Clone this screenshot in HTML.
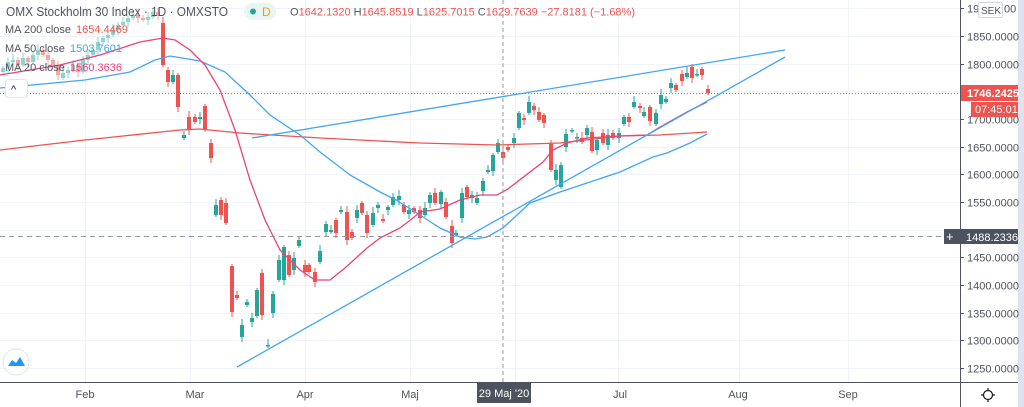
<!DOCTYPE html>
<html><head><meta charset="utf-8">
<style>
html,body{margin:0;padding:0;background:#fff;width:1024px;height:407px;overflow:hidden;font-family:"Liberation Sans",sans-serif;}
svg text{font-family:"Liberation Sans",sans-serif;}
</style></head>
<body>
<svg id="s" width="1024" height="407" viewBox="0 0 1024 407" xmlns="http://www.w3.org/2000/svg">
<rect width="1024" height="407" fill="#fff"/>
<g id="grid" stroke="#f0f3fa" stroke-width="1"></g>
<g id="candles"></g>
<g id="lines" fill="none" stroke-width="1.3"></g>
<line x1="237" y1="367" x2="785" y2="57" stroke="#42a5f5" stroke-width="1.3"/>
<line x1="252" y1="138" x2="785" y2="50" stroke="#42a5f5" stroke-width="1.3"/>
<line x1="503" y1="0" x2="503" y2="382" stroke="#9598a1" stroke-dasharray="4,3"/>
<line x1="0" y1="236.5" x2="960" y2="236.5" stroke="#9598a1" stroke-dasharray="5,4"/>
<line x1="0" y1="93.5" x2="960" y2="93.5" stroke="#ef5350" stroke-dasharray="1,2"/>
<line x1="960.5" y1="0" x2="960.5" y2="407" stroke="#50535e"/>
<line x1="0" y1="382.5" x2="1018" y2="382.5" stroke="#50535e"/>
<rect x="1018" y="0" width="6" height="407" fill="#e0e3eb"/>
<g id="ylab" font-size="11" fill="#50535e"></g>
<g font-size="11" fill="#50535e" text-anchor="middle">
<text x="85" y="398">Feb</text><text x="195" y="398">Mar</text><text x="305" y="398">Apr</text><text x="410" y="398">Maj</text>
<text x="620" y="398">Jul</text><text x="738" y="398">Aug</text><text x="848" y="398">Sep</text>
</g>
<rect x="477" y="383" width="54" height="20" fill="#4c525e"/>
<text x="504" y="397" font-size="11" fill="#fff" text-anchor="middle">29 Maj '20</text>
<rect x="961" y="85" width="57" height="16" fill="#ef5350"/>
<text x="967" y="97" font-size="11" fill="#fff" font-weight="bold">1746.2425</text>
<rect x="971" y="102" width="47" height="15" fill="#ef5350"/>
<text x="975" y="113" font-size="11" fill="#fff">07:45:01</text>
<rect x="944" y="229" width="74" height="15" fill="#4c525e"/>
<text x="946" y="241" font-size="13" fill="#fff">+</text>
<text x="966" y="241" font-size="11" fill="#fff">1488.2336</text>
<rect x="978.5" y="2.5" width="24" height="15" rx="2" fill="#fff" stroke="#d1d4dc"/>
<text x="981" y="14" font-size="10" fill="#50535e">SEK</text>
<circle cx="988" cy="395" r="4.5" fill="none" stroke="#131722" stroke-width="1.2"/>
<g stroke="#131722" stroke-width="1.2"><line x1="988" y1="388" x2="988" y2="390"/><line x1="988" y1="400" x2="988" y2="402"/><line x1="981" y1="395" x2="983" y2="395"/><line x1="993" y1="395" x2="995" y2="395"/></g>
<text x="6" y="16" font-size="13" fill="#50535e" textLength="222" lengthAdjust="spacingAndGlyphs">OMX Stockholm 30 Index · 1D · OMXSTO</text>
<rect x="244" y="3" width="32" height="17" rx="8" fill="#e8f5f3"/>
<circle cx="253" cy="11.5" r="3" fill="#26a69a"/>
<text x="262" y="16" font-size="12" fill="#ff9800">D</text>
<text x="290" y="15.5" font-size="11" fill="#50535e">O<tspan fill="#ef5350">1642.1320</tspan>  H<tspan fill="#ef5350">1645.8519</tspan>  L<tspan fill="#ef5350">1625.7015</tspan>  C<tspan fill="#ef5350">1629.7639</tspan>  <tspan fill="#ef5350">−27.8181 (−1.68%)</tspan></text>
<text x="5" y="33" font-size="11" fill="#50535e">MA 200 close <tspan x="76" fill="#ef5350">1654.4469</tspan></text>
<text x="5" y="52" font-size="11" fill="#50535e">MA 50 close <tspan x="70" fill="#42a5f5">1503.7601</tspan></text>
<text x="5" y="71" font-size="11" fill="#50535e">MA 20 close <tspan x="70" fill="#ec407a">1560.3636</tspan></text>
<rect x="5.5" y="79.5" width="22" height="18" rx="3" fill="#fff" stroke="#e0e3eb"/>
<text x="11" y="93" font-size="11" fill="#131722">^</text>
<circle cx="16" cy="362" r="13" fill="#fff" stroke="#e0e3eb"/>
<path d="M8 366 L12 360 L16 363 L20 357 L25 366 Z" fill="#2196f3"/>
</svg>
<script>
var NS="http://www.w3.org/2000/svg";
function el(t,a,p){var e=document.createElementNS(NS,t);for(var k in a)e.setAttribute(k,a[k]);p.appendChild(e);return e;}
var grid=document.getElementById('grid'),yl=document.getElementById('ylab');
function py(p){return 36+(1850-p)*0.5533;}
for(var p=1250;p<=1900;p+=50){var y=Math.round(py(p))+0.5;el('line',{x1:0,y1:y,x2:960,y2:y},grid);
 el('line',{x1:960,y1:y,x2:964,y2:y,stroke:'#50535e'},yl);
 if(p!=1750&&p!=1500&&p!=1900){var t=el('text',{x:967,y:y+4},yl);t.textContent=p+'.0000';}}
var t=el('text',{x:967,y:12.5},yl);t.textContent='19';var t2=el('text',{x:1004,y:12.5},yl);t2.textContent='00';
[85,190,305,410,515,618,739,848].forEach(function(x){el('line',{x1:x+.5,y1:0,x2:x+.5,y2:382},grid);});
var C=[[3,72,68],[8,68,62],[13,62,60],[18,60,65],[23,65,58],[28,58,62],[33,62,55],[38,55,50],[43,50,55],[48,55,60],[53,60,65],[58,65,75],[63,78,73],[68,73,70],[73,70,65],[78,65,72],[83,72,60],[88,60,55],[93,55,50],[98,50,42],[103,42,38],[108,38,35],[113,35,30],[118,30,25],[123,25,22],[128,22,18],[133,18,15],[138,15,18],[143,18,20],[148,20,17],[153,17,12],[158,12,15],
[163,23,65],[168,70,82],[173,82,75],[178,75,107],[184,138,135],[189,117,130],[195,117,122],[200,119,117],[205,106,130],[211,143,158],[216,215,205],[221,200,215],[226,203,223],[232,266,312],[237,295,298],[242,337,325],[247,305,302],[252,322,318],[257,316,290],[262,273,315],[268,346,345],[273,313,294],[279,280,260],[284,280,247],[289,255,275],[294,270,258],[299,246,240],[305,265,272],[309,265,272],[315,272,282],[320,262,251],[326,232,224],[331,232,230],[336,220,233],[341,212,210],[347,212,240],[352,232,238],[357,218,210],[362,203,213],[367,215,233],[373,225,213],[378,208,205],[383,219,221],[388,210,207],[393,205,197],
[399,200,196],[404,205,212],[409,214,210],[414,208,212],[420,210,218],[425,215,208],[430,203,195],[435,193,203],[441,204,192],[446,202,217],[452,226,243],[456,235,233],[462,218,193],[467,187,197],[472,198,195],[477,203,198],[483,191,181],[488,172,170],[493,171,155],[498,152,143],[503,152,158],[508,147,150],[514,143,138],[519,128,113],[524,118,120],[529,113,102],[534,106,110],[539,112,120],[544,115,123],[551,144,170],[556,180,170],[561,187,165],[566,147,134],[572,131,130],[577,138,137],[582,138,142],[587,135,128],[592,132,151],[597,150,140],[603,133,143],[608,145,135],[613,133,138],[619,138,133],[624,124,117],[629,117,122],[634,107,102],[640,106,108],[644,116,112],[650,107,121],[656,124,113],[661,104,95],[666,102,99],[671,88,83],[676,85,90],[682,74,81],[687,77,73],[692,67,78],[697,75,74],[702,69,75],[708,89,93]];
var cg=document.getElementById('candles');
C.forEach(function(c,i){var x=c[0],o=c[1],cl=c[2];var up=cl<o;var col=up?'#26a69a':'#ef5350';
 if(x<160){col=up?'#8fd3cb':'#f5a5a4';}
 var top=Math.min(o,cl),bot=Math.max(o,cl);var w=(i*7)%5+2;
 el('line',{x1:x,y1:top-w,x2:x,y2:bot+((i*3)%6)+2,stroke:col,'stroke-width':1},cg);
 el('rect',{x:x-2,y:top,width:4,height:Math.max(bot-top,1.5),fill:col},cg);});
var lg=document.getElementById('lines');
function pl(pts,col){el('polyline',{points:pts.map(function(p){return p.join(',')}).join(' '),stroke:col},lg);}
pl([[0,150],[85,140],[180,130],[200,129],[240,133],[320,138],[420,143],[497,145],[560,143],[620,136],[660,135],[707,132]],'#ef5350');
pl([[0,88],[85,80],[130,72],[155,60],[170,56],[200,61],[225,72],[250,95],[270,115],[300,135],[320,152],[350,175],[380,192],[396,200],[420,215],[440,228],[460,237],[475,239],[487,237],[503,228],[530,203],[560,192],[590,182],[620,172],[653,157],[667,153],[690,143],[707,134]],'#42a5f5');
pl([[0,75],[60,65],[100,55],[140,42],[163,38],[175,40],[190,50],[205,65],[220,90],[235,130],[250,180],[265,220],[280,250],[300,270],[315,280],[330,280],[345,268],[367,248],[380,238],[400,228],[413,218],[420,212],[440,209],[460,200],[480,195],[497,195],[508,189],[543,162],[553,150],[567,143],[587,138],[620,136],[647,135],[660,127],[687,112],[707,102]],'#ec407a');
</script>
</body></html>
